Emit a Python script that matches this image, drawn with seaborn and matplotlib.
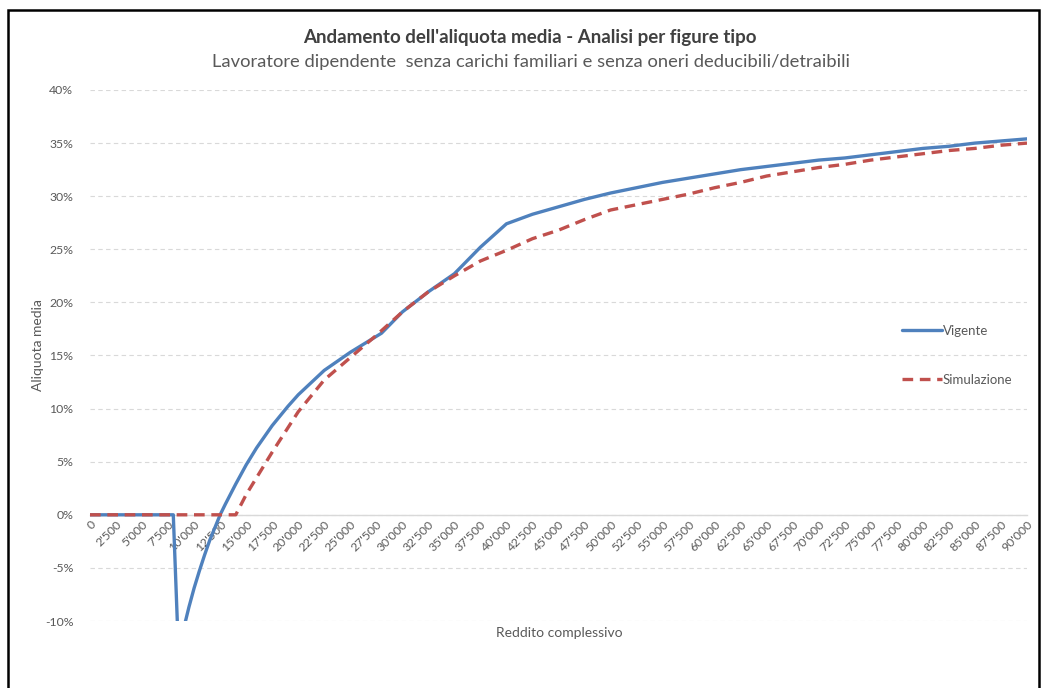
import matplotlib
matplotlib.use("Agg")
import matplotlib.pyplot as plt
import matplotlib.ticker as mticker
from matplotlib.patches import Rectangle
import pandas as pd
import seaborn as sns

# Reddito complessivo (euro) e aliquota media (%) - regime vigente
income_vigente = [0, 7500, 8000, 8500, 9000, 9500, 10000, 10500, 11000, 11500, 12000,
                  12500, 13000, 14000, 15000, 16000, 17500, 19000, 20000, 22500, 25000,
                  27500, 28000, 30000, 32500, 35000, 37500, 40000, 42500, 45000, 47500,
                  50000, 52500, 55000, 57500, 60000, 62500, 65000, 67500, 70000, 72500,
                  75000, 77500, 80000, 82500, 85000, 87500, 90000]
rate_vigente = [0, 0, 0, -13.0, -10.7, -8.7, -6.9, -5.3, -3.8, -2.4, -1.2,
                0.0, 1.0, 2.9, 4.7, 6.3, 8.4, 10.2, 11.3, 13.6, 15.3,
                16.8, 17.1, 19.1, 21.0, 22.7, 25.2, 27.4, 28.3, 29.0, 29.7,
                30.3, 30.8, 31.3, 31.7, 32.1, 32.5, 32.8, 33.1, 33.4, 33.6,
                33.9, 34.2, 34.5, 34.7, 35.0, 35.2, 35.4]

# Simulazione
income_sim = [0, 7500, 14000, 15000, 16000, 17500, 20000, 22500, 25000, 27500,
              30000, 32500, 35000, 37500, 40000, 42500, 45000, 47500, 50000, 52500,
              55000, 57500, 60000, 62500, 65000, 67500, 70000, 72500, 75000, 77500,
              80000, 82500, 85000, 87500, 90000]
rate_sim = [0, 0, 0, 1.9, 3.5, 5.9, 9.7, 12.7, 14.8, 16.9,
            19.1, 21.0, 22.5, 23.9, 24.9, 26.0, 26.8, 27.8, 28.7, 29.2,
            29.7, 30.2, 30.8, 31.3, 31.9, 32.3, 32.7, 33.0, 33.4, 33.7,
            34.0, 34.3, 34.5, 34.8, 35.0]

x_ticks = [0, 2500, 5000, 7500, 10000, 12500, 15000, 17500, 20000, 22500, 25000,
           27500, 30000, 32500, 35000, 37500, 40000, 42500, 45000, 47500, 50000,
           52500, 55000, 57500, 60000, 62500, 65000, 67500, 70000, 72500, 75000,
           77500, 80000, 82500, 85000, 87500, 90000]
x_tick_labels = ["0", "2'500", "5'000", "7'500", "10'000", "12'500", "15'000", "17'500",
                 "20'000", "22'500", "25'000", "27'500", "30'000", "32'500", "35'000",
                 "37'500", "40'000", "42'500", "45'000", "47'500", "50'000", "52'500",
                 "55'000", "57'500", "60'000", "62'500", "65'000", "67'500", "70'000",
                 "72'500", "75'000", "77'500", "80'000", "82'500", "85'000", "87'500",
                 "90'000"]
y_ticks = [-10, -5, 0, 5, 10, 15, 20, 25, 30, 35, 40]

BLUE = "#4F81BD"
RED = "#C0504D"
GREY = "#595959"

sns.set_theme(style="white")
plt.rcParams['font.family'] = ['Lato', 'DejaVu Sans']

df_vig = pd.DataFrame({'reddito': income_vigente, 'aliquota': rate_vigente})
df_sim = pd.DataFrame({'reddito': income_sim, 'aliquota': rate_sim})

fig = plt.figure(figsize=(10.43, 6.88), dpi=100)
ax = fig.add_axes([90 / 1043, 1 - 621 / 688, 937 / 1043, 531 / 688])

sns.lineplot(data=df_vig, x='reddito', y='aliquota', color=BLUE, linewidth=2.4,
             label='Vigente', ax=ax)
sns.lineplot(data=df_sim, x='reddito', y='aliquota', color=RED, linewidth=2.4,
             linestyle=(0, (3.2, 2.0)), label='Simulazione', ax=ax)

# horizontal axis crosses at 0% (must be set before tick labels, it resets them)
for side in ['top', 'right', 'left']:
    ax.spines[side].set_visible(False)
ax.spines['bottom'].set_position(('data', 0))
ax.spines['bottom'].set_color('#d9d9d9')
ax.spines['bottom'].set_linewidth(1.0)
ax.spines['bottom'].set_zorder(1)

ax.set_xlim(0, 90000)
ax.set_ylim(-10, 40)
ax.set_yticks(y_ticks)
ax.yaxis.set_major_formatter(mticker.FuncFormatter(lambda v, _: f"{v:.0f}%"))
ax.set_xticks(x_ticks)
ax.set_xticklabels(x_tick_labels)
ax.tick_params(axis='y', length=0, pad=12, labelsize=8.8, labelcolor=GREY)
ax.tick_params(axis='x', length=0, pad=3, labelsize=8.8, labelcolor=GREY)
for lbl in ax.get_xticklabels():
    lbl.set_rotation(45)
    lbl.set_ha('right')
    lbl.set_rotation_mode('anchor')

ax.yaxis.grid(True, color='#d9d9d9', linestyle=(0, (4, 3)), linewidth=0.8)
ax.set_axisbelow(True)
ax.set_xlabel('')
ax.set_ylabel('')

fig.text(559 / 1043, 1 - 633 / 688, 'Reddito complessivo', ha='center', va='center',
         fontsize=10, color=GREY)
fig.text(38 / 1043, 1 - 345 / 688, 'Aliquota media', ha='center', va='center',
         rotation=90, fontsize=10, color=GREY)

fig.text(530 / 1043, 1 - 37 / 688, "Andamento dell'aliquota media - Analisi per figure tipo",
         ha='center', va='center', fontsize=13.5, fontweight='bold', color='#404040')
fig.text(531 / 1043, 1 - 62 / 688,
         "Lavoratore dipendente  senza carichi familiari e senza oneri deducibili/detraibili",
         ha='center', va='center', fontsize=13.2, color=GREY)

leg = ax.legend(loc='upper left', bbox_to_anchor=(902 / 1043, 1 - 325 / 688),
                bbox_transform=fig.transFigure, frameon=False, handlelength=3.0,
                handletextpad=0.1, labelspacing=2.8, fontsize=9.5, borderaxespad=0,
                borderpad=0)
for t in leg.get_texts():
    t.set_color(GREY)

fig.patches.append(Rectangle((8 / 1043, -0.05), 1031 / 1043, 1 - 10 / 688 + 0.05,
                             transform=fig.transFigure, fill=False, edgecolor='black',
                             linewidth=1.8, zorder=10))

fig.savefig('out.png', dpi=100)
